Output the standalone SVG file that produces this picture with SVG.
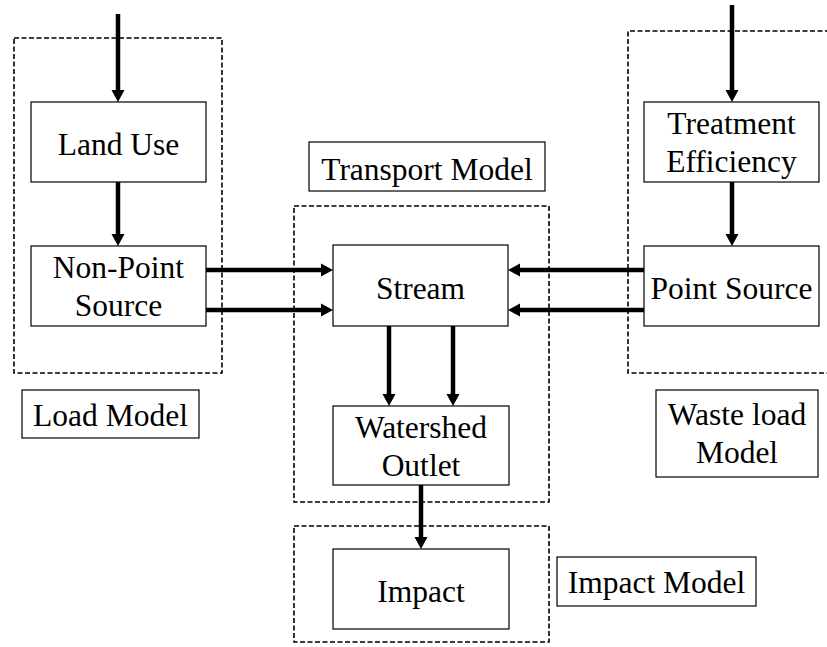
<svg xmlns="http://www.w3.org/2000/svg" width="827" height="647" viewBox="0 0 827 647">
<style>
.box{fill:#fff;stroke:#000;stroke-width:1.2}
.dash{fill:none;stroke:#000;stroke-width:1.6;stroke-dasharray:5 2.5}
.t{font-family:'Liberation Serif','Times New Roman',serif;font-size:31.5px;fill:#000;text-anchor:middle}
.c{stroke:#000;stroke-width:4.5;fill:none;marker-end:url(#ah)}
</style>
<defs>
<marker id="ah" markerUnits="userSpaceOnUse" markerWidth="14" markerHeight="14" refX="0" refY="6.5" orient="auto" overflow="visible">
<path d="M0,0 L12,6.5 L0,13 Z" fill="#000"/>
</marker>
</defs>
<rect width="827" height="647" fill="#fff"/>
<g id="groups">
<rect id="load-group" class="dash" x="14" y="38" width="208" height="335"/>
<path id="waste-group" class="dash" d="M830,31 H628 V373 H830"/>
<rect id="transport-group" class="dash" x="294" y="206" width="255" height="296"/>
<rect id="impact-group" class="dash" x="294" y="526" width="255" height="116"/>
</g>
<g id="connectors">
<line class="c" x1="118" y1="14" x2="118" y2="90"/>
<line class="c" x1="118" y1="182" x2="118" y2="234"/>
<line class="c" x1="732" y1="5" x2="732" y2="90"/>
<line class="c" x1="732" y1="182" x2="732" y2="234"/>
<line class="c" x1="206" y1="270" x2="321" y2="270"/>
<line class="c" x1="206" y1="310" x2="321" y2="310"/>
<line class="c" x1="644" y1="270" x2="520" y2="270"/>
<line class="c" x1="644" y1="310" x2="520" y2="310"/>
<line class="c" x1="389" y1="326" x2="389" y2="394"/>
<line class="c" x1="453" y1="326" x2="453" y2="394"/>
<line class="c" x1="421" y1="485" x2="421" y2="537"/>
</g>
<g id="land-use"><rect class="box" x="31" y="102" width="175" height="80"/><text class="t" x="118.5" y="155">Land Use</text></g>
<g id="non-point-source"><rect class="box" x="31" y="246" width="175" height="80"/><text class="t" x="118.5" y="278">Non-Point</text><text class="t" x="118.5" y="316">Source</text></g>
<g id="load-model"><rect class="box" x="22" y="390" width="177" height="48"/><text class="t" x="110.5" y="426">Load Model</text></g>
<g id="transport-model"><rect class="box" x="309" y="142" width="236" height="49"/><text class="t" x="427" y="180">Transport Model</text></g>
<g id="stream"><rect class="box" x="333" y="245" width="175" height="81"/><text class="t" x="420.5" y="299">Stream</text></g>
<g id="watershed-outlet"><rect class="box" x="333" y="406" width="176" height="79"/><text class="t" x="421" y="438">Watershed</text><text class="t" x="421" y="476">Outlet</text></g>
<g id="impact"><rect class="box" x="333" y="549" width="176" height="80"/><text class="t" x="421" y="602">Impact</text></g>
<g id="impact-model"><rect class="box" x="557" y="557" width="199" height="49"/><text class="t" x="656.5" y="593">Impact Model</text></g>
<g id="treatment-efficiency"><rect class="box" x="644" y="102" width="175" height="80"/><text class="t" x="731.5" y="134">Treatment</text><text class="t" x="731.5" y="172">Efficiency</text></g>
<g id="point-source"><rect class="box" x="644" y="246" width="175" height="80"/><text class="t" x="731.5" y="299">Point Source</text></g>
<g id="waste-load-model"><rect class="box" x="656" y="390" width="162" height="87"/><text class="t" x="737" y="425">Waste load</text><text class="t" x="737" y="463">Model</text></g>
</svg>
